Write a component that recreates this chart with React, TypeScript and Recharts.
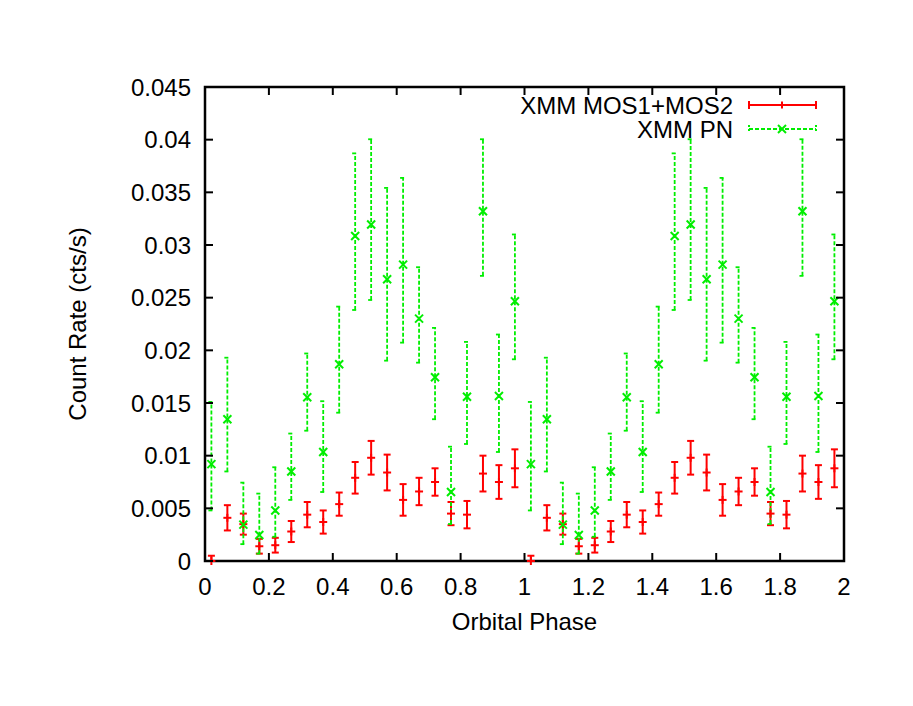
import {
  ScatterChart,
  Scatter,
  XAxis,
  YAxis,
  ErrorBar,
  ReferenceArea,
  Legend,
  Label,
} from "recharts";

// folded light curve, one orbital cycle (shown twice)
const PHASE = [0.02, 0.07, 0.12, 0.17, 0.22, 0.27, 0.32, 0.37, 0.42, 0.47, 0.52, 0.57, 0.62, 0.67, 0.72, 0.77, 0.82, 0.87, 0.92, 0.97];

const MOS_RATE = [0, 0.0041, 0.0035, 0.0014, 0.0015, 0.0028, 0.0044, 0.0037, 0.0054, 0.0079, 0.0098, 0.0084, 0.0058, 0.0066, 0.0075, 0.0045, 0.0044, 0.0083, 0.0075, 0.0088];
const MOS_ERR = [0.0005, 0.0012, 0.001, 0.0007, 0.0007, 0.001, 0.0012, 0.0011, 0.0011, 0.0015, 0.0016, 0.0017, 0.0015, 0.0013, 0.0013, 0.0011, 0.0013, 0.0017, 0.0016, 0.0018];

const PN_RATE = [0.0092, 0.01345, 0.00345, 0.00247, 0.0048, 0.0085, 0.01555, 0.01035, 0.01868, 0.03086, 0.03194, 0.02675, 0.02814, 0.02301, 0.01745, 0.00655, 0.0156, 0.0332, 0.01567, 0.02466];
const PN_HIGH = [0.0151, 0.0193, 0.00744, 0.0064, 0.0089, 0.0121, 0.0197, 0.01517, 0.02415, 0.0387, 0.04004, 0.03542, 0.03637, 0.02789, 0.02213, 0.01085, 0.0208, 0.04004, 0.0215, 0.031];
const PN_LOW = [0.0048, 0.0085, 0.0016, 0.0007, 0.0023, 0.0058, 0.01237, 0.00655, 0.01408, 0.02383, 0.02478, 0.01902, 0.02073, 0.01883, 0.01346, 0.00351, 0.01111, 0.02707, 0.01035, 0.01915];

const CYCLES = [0, 1];

const X_TICKS = [0, 0.2, 0.4, 0.6, 0.8, 1, 1.2, 1.4, 1.6, 1.8, 2];
const Y_TICKS = [0, 0.005, 0.01, 0.015, 0.02, 0.025, 0.03, 0.035, 0.04, 0.045];

const RED = "#ff0000";
const GREEN = "#00ee00";
const FONT = "'Liberation Sans', Arial, Helvetica, sans-serif";
const FS = 24;

// plot frame (px)
const W = 913;
const H = 706;
const PL = 205;
const PR = 844;
const PT = 87;
const PB = 561;
const TICK = 8;

const mosData = CYCLES.flatMap((c) =>
  PHASE.map((p, i) => ({
    x: p + c,
    y: MOS_RATE[i],
    err: [Math.min(MOS_ERR[i], MOS_RATE[i]), MOS_ERR[i]],
  }))
);

const pnData = CYCLES.flatMap((c) =>
  PHASE.map((p, i) => ({
    x: p + c,
    y: PN_RATE[i],
    err: [PN_RATE[i] - PN_LOW[i], PN_HIGH[i] - PN_RATE[i]],
  }))
);

const PlusMark = (props: any) => {
  const { cx, cy } = props;
  return (
    <g>
      <line x1={cx - 4} x2={cx + 4} y1={cy} y2={cy} stroke={RED} strokeWidth={2} />
      <line x1={cx} x2={cx} y1={cy - 4} y2={cy + 4} stroke={RED} strokeWidth={2} />
    </g>
  );
};

const CrossMark = (props: any) => {
  const { cx, cy } = props;
  return (
    <g>
      <line x1={cx - 4} x2={cx + 4} y1={cy - 4} y2={cy + 4} stroke={GREEN} strokeWidth={2} />
      <line x1={cx - 4} x2={cx + 4} y1={cy + 4} y2={cy - 4} stroke={GREEN} strokeWidth={2} />
    </g>
  );
};

const XTick = (props: any) => {
  const { x, payload } = props;
  return (
    <g>
      <line x1={x} x2={x} y1={PB} y2={PB - TICK} stroke="#000" strokeWidth={2} />
      <line x1={x} x2={x} y1={PT} y2={PT + TICK} stroke="#000" strokeWidth={2} />
      <text x={x} y={PB + 25} textAnchor="middle" dominantBaseline="central" fontFamily={FONT} fontSize={FS} fill="#000">
        {String(payload.value)}
      </text>
    </g>
  );
};

const YTick = (props: any) => {
  const { y, payload } = props;
  return (
    <g>
      <line x1={PL} x2={PL + TICK} y1={y} y2={y} stroke="#000" strokeWidth={2} />
      <line x1={PR} x2={PR - TICK} y1={y} y2={y} stroke="#000" strokeWidth={2} />
      <text x={PL - 14} y={y} textAnchor="end" dominantBaseline="central" fontFamily={FONT} fontSize={FS} fill="#000">
        {String(payload.value)}
      </text>
    </g>
  );
};

const LegendBox = () => (
  <svg width={340} height={56} style={{ overflow: "visible" }}>
    <text x={233} y={17} textAnchor="end" dominantBaseline="central" fontFamily={FONT} fontSize={FS} fill="#000">
      XMM MOS1+MOS2
    </text>
    <g stroke={RED} strokeWidth={2}>
      <line x1={249} x2={316} y1={17} y2={17} />
      <line x1={249} x2={249} y1={13} y2={21} />
      <line x1={316} x2={316} y1={13} y2={21} />
      <line x1={282} x2={282} y1={13.5} y2={20.5} />
    </g>
    <text x={233} y={41} textAnchor="end" dominantBaseline="central" fontFamily={FONT} fontSize={FS} fill="#000">
      XMM PN
    </text>
    <g stroke={GREEN} strokeWidth={2}>
      <line x1={249} x2={316} y1={41} y2={41} strokeDasharray="4 2" />
      <line x1={249} x2={249} y1={37} y2={45} strokeDasharray="2 2" />
      <line x1={316} x2={316} y1={37} y2={45} strokeDasharray="2 2" />
      <line x1={278} x2={286} y1={37} y2={45} />
      <line x1={278} x2={286} y1={45} y2={37} />
    </g>
  </svg>
);

export default function App() {
  return (
    <div style={{ position: "absolute", left: 0, top: 0, width: W, height: H, background: "#fff" }}>
      <ScatterChart
        width={W}
        height={H}
        margin={{ top: PT, right: W - PR, bottom: H - PB - 60, left: 0 }}
      >
        <XAxis
          type="number"
          dataKey="x"
          domain={[0, 2]}
          ticks={X_TICKS}
          axisLine={false}
          tickLine={false}
          tick={(p: any) => <XTick {...p} />}
          height={60}
          interval={0}
        >
          <Label
            content={() => (
              <text x={(PL + PR) / 2} y={621} textAnchor="middle" dominantBaseline="central" fontFamily={FONT} fontSize={FS} fill="#000">
                Orbital Phase
              </text>
            )}
          />
        </XAxis>
        <YAxis
          type="number"
          dataKey="y"
          domain={[0, 0.045]}
          ticks={Y_TICKS}
          axisLine={false}
          tickLine={false}
          tick={(p: any) => <YTick {...p} />}
          width={PL}
          interval={0}
        >
          <Label
            content={() => (
              <text
                x={77}
                y={(PT + PB) / 2}
                transform={`rotate(-90 77 ${(PT + PB) / 2})`}
                textAnchor="middle"
                dominantBaseline="central"
                fontFamily={FONT}
                fontSize={FS}
                fill="#000"
              >
                Count Rate (cts/s)
              </text>
            )}
          />
        </YAxis>
        <ReferenceArea x1={0} x2={2} y1={0} y2={0.045} fill="none" stroke="#000" strokeWidth={2.5} ifOverflow="visible" />
        <Legend
          layout="horizontal"
          verticalAlign="middle"
          align="center"
          wrapperStyle={{ left: 500, top: 88, width: 340, height: 56 }}
          content={() => <LegendBox />}
        />
        <Scatter name="XMM MOS1+MOS2" data={mosData} shape={PlusMark} isAnimationActive={false}>
          <ErrorBar dataKey="err" direction="y" width={3.5} stroke={RED} strokeWidth={2} isAnimationActive={false} />
        </Scatter>
        <Scatter name="XMM PN" data={pnData} shape={CrossMark} isAnimationActive={false}>
          <ErrorBar dataKey="err" direction="y" width={3} stroke={GREEN} strokeWidth={1.8} strokeDasharray="4 2" isAnimationActive={false} />
        </Scatter>
      </ScatterChart>
    </div>
  );
}
